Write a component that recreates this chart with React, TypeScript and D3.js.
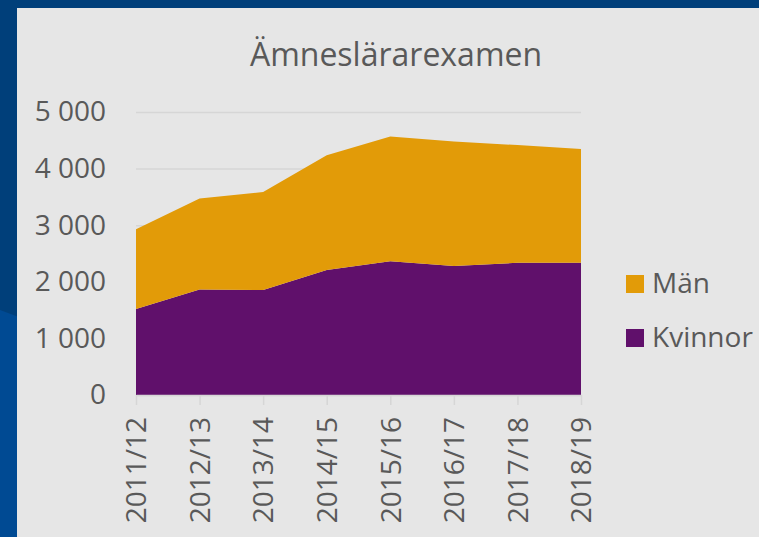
import { useEffect, useRef } from "react"
import { area, axisBottom, axisLeft, scaleLinear, scalePoint, select, stack } from "d3"

const years = ["2011/12", "2012/13", "2013/14", "2014/15", "2015/16", "2016/17", "2017/18", "2018/19"]
const kvinnor = [1520, 1865, 1855, 2210, 2365, 2280, 2335, 2335]
const man = [1410, 1605, 1730, 2025, 2200, 2200, 2080, 2010]
const yTicks = [0, 1000, 2000, 3000, 4000, 5000]
const keys = ["Kvinnor", "Män"]
const colors = { "Kvinnor": "#60106b", "Män": "#e29b08" }

const fmt = (v: number) => v === 0 ? "0" : `${Math.floor(v / 1000)} ${String(v % 1000).padStart(3, "0")}`

const App = () => {
    const ref = useRef<SVGSVGElement>(null)

    useEffect(() => {
        const svg = select(ref.current)
        const rows = years.map((y, i) => ({ year: y, "Kvinnor": kvinnor[i], "Män": man[i] }))
        const series = stack<any>().keys(keys)(rows)

        const x = scalePoint<string>().domain(years).range([136, 581])
        const y = scaleLinear().domain([0, 5000]).range([395, 112])

        const yAxis = svg.select<SVGGElement>(".yaxis")
            .call(axisLeft(y).tickValues(yTicks).tickSize(-(581 - 136)).tickFormat(d => fmt(+d)))
        yAxis.attr("transform", "translate(136,0)")
        yAxis.select(".domain").remove()
        yAxis.selectAll(".tick line").attr("stroke", "#d6d6d6").attr("stroke-width", 1.5)
        yAxis.selectAll(".tick text")
            .attr("x", -30)
            .attr("fill", "#595959")
            .style("font-size", "28px")
            .style("font-family", "'Open Sans', sans-serif")

        svg.select(".fills").selectAll("path")
            .data(series)
            .join("path")
            .attr("fill", (d: any) => colors[d.key as keyof typeof colors])
            .attr("d", area<any>()
                .x(d => x(d.data.year) as number)
                .y0(d => y(d[0]))
                .y1(d => y(d[1])) as any)

        const xAxis = svg.select<SVGGElement>(".xaxis")
            .attr("transform", "translate(0,395)")
            .call(axisBottom(x).tickSize(10).tickSizeOuter(0))
        xAxis.select(".domain").attr("stroke", "#d6d6d6").attr("stroke-width", 1.5)
        xAxis.selectAll(".tick line").attr("stroke", "#d6d6d6").attr("stroke-width", 1.5)
        xAxis.selectAll(".tick text")
            .attr("transform", "rotate(-90)")
            .attr("x", -22)
            .attr("y", 0)
            .attr("dy", "0.35em")
            .attr("text-anchor", "end")
            .attr("fill", "#595959")
            .style("font-size", "28px")
            .style("font-family", "'Open Sans', sans-serif")
    }, [])

    return (
        <svg ref={ref} width={759} height={537} style={{ position: "absolute", left: 0, top: 0 }}>
            <rect x={0} y={0} width={759} height={537} fill="#003f7a" />
            <polygon points="0,310 40,325 40,537 0,537" fill="#004a93" />
            <rect x={17} y={8} width={742} height={529} fill="#e6e6e6" />
            <text x={396} y={66} textAnchor="middle" fill="#595959"
                style={{ fontSize: "32px", fontFamily: "'Open Sans', sans-serif" }}>Ämneslärarexamen</text>
            <g className="yaxis"></g>
            <g className="fills"></g>
            <g className="xaxis"></g>
            <g className="legend" style={{ fontSize: "28px", fontFamily: "'Open Sans', sans-serif" }}>
                {["Män", "Kvinnor"].map((k, i) => (
                    <g key={k} transform={`translate(626,${275 + i * 54})`}>
                        <rect width={18} height={18} fill={colors[k as keyof typeof colors]} />
                        <text x={26} y={18} fill="#595959">{k}</text>
                    </g>
                ))}
            </g>
        </svg>
    )
}

export default App
